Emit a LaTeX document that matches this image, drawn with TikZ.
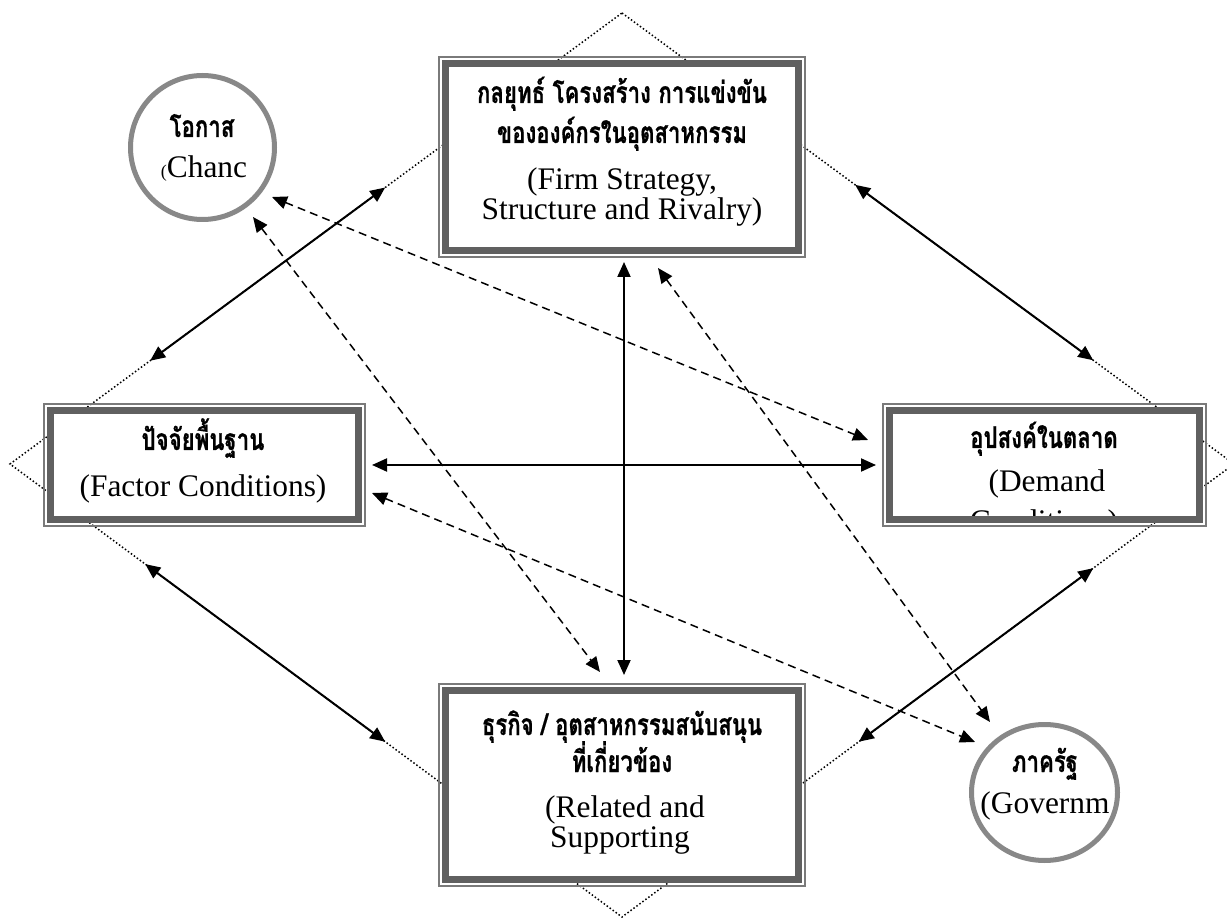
\documentclass[tikz,border=0pt]{standalone}
\usepackage{fontspec}
\setmainfont{Liberation Serif}
\newfontfamily\thaifont[Script=Thai,FakeStretch=0.74,BoldFeatures={FakeBold=0.6}]{Loma}
\usetikzlibrary{arrows.meta,calc,shapes.geometric}

\definecolor{bandgray}{RGB}{96,96,96}
\definecolor{rimgray}{RGB}{122,122,122}
\definecolor{ringgray}{RGB}{136,136,136}

\begin{document}
\begin{tikzpicture}[x=0.5pt,y=-0.5pt,
  box/.style={rectangle, draw=bandgray, line width=3.5pt, fill=white,
    inner sep=0pt, outer sep=0pt},
  rim/.style={draw=rimgray, line width=1pt},
  ring/.style={draw=ringgray, line width=2.5pt, fill=white,
    inner sep=0pt, outer sep=0pt},
  th/.style={font=\thaifont\bfseries\fontsize{15}{17}\selectfont,
    anchor=base, inner sep=0pt},
  en/.style={font=\fontsize{15.7}{18}\selectfont, anchor=base, inner sep=0pt},
  link/.style={line width=1pt, {Triangle[length=7.5pt,width=6.5pt]}-{Triangle[length=7.5pt,width=6.5pt]}},
  dlink/.style={line width=0.75pt, dash pattern=on 4pt off 2.6pt,
    {Triangle[length=7.5pt,width=6.5pt]}-{Triangle[length=7.5pt,width=6.5pt]}},
  edge/.style={line width=0.75pt, dash pattern=on 0.75pt off 1.1pt}
]
\useasboundingbox (0,0) rectangle (1227,919);

% the dotted diamond behind everything
\coordinate (T) at (622,13);
\coordinate (R) at (1234,464);
\coordinate (B) at (622,917);
\coordinate (L) at (10,464);
\draw[edge] (T) -- (R) -- (B) -- (L) -- cycle;

% the four framed boxes
\node[box, minimum width=176.5pt, minimum height=93.5pt] (firm) at (622,157) {};
\node[box, minimum width=154pt, minimum height=54.5pt] (factor) at (204.5,465) {};
\node[box, minimum width=155pt, minimum height=54.5pt] (demand) at (1044.5,465) {};
\node[box, minimum width=176.5pt, minimum height=94.5pt] (related) at (622,785) {};
\foreach \n in {firm,factor,demand,related}
  \draw[rim] ([shift={(-3.25pt,3.25pt)}]\n.north west)
    rectangle ([shift={(3.25pt,-3.25pt)}]\n.south east);

% box texts
\node[th] (firmT1) at (622,103) {กลยุทธ์ โครงสร้าง การแข่งขัน};
\node[th] (firmT2) at (622,143) {ขององค์กรในอุตสาหกรรม};
\node[en] (firmE1) at (622,190) {(Firm Strategy,};
\node[en] (firmE2) at (622,220) {Structure and Rivalry)};

\node[th] (factorT) at (203,450) {ปัจจัยพื้นฐาน};
\node[en] (factorE) at (203,497) {(Factor Conditions)};

\node[th] (demandT) at (1044,448) {อุปสงค์ในตลาด};
\node[en] (demandE1) at (1047,492) {(Demand};
\begin{scope}
  \clip ([shift={(1.75pt,-1.75pt)}]demand.north west)
    rectangle ([shift={(-1.75pt,1.75pt)}]demand.south east);
  \node[en] (demandE2) at (1044,532) {Conditions)};
\end{scope}

\node[th] (relT1) at (622,735) {ธุรกิจ / อุตสาหกรรมสนับสนุน};
\node[th] (relT2) at (622,772) {ที่เกี่ยวข้อง};
\node[en] (relE1) at (625,817) {(Related and};
\node[en] (relE2) at (620,847) {Supporting};

% solid links along the diamond edges
\draw[link] ($(L)!0.229!(T)$) -- ($(L)!0.613!(T)$);
\draw[link] ($(T)!0.381!(R)$) -- ($(T)!0.770!(R)$);
\draw[link] ($(L)!0.221!(B)$) -- ($(L)!0.613!(B)$);
\draw[link] ($(R)!0.230!(B)$) -- ($(R)!0.613!(B)$);
\draw[link] ([xshift=1pt,yshift=-5.75pt]firm.south) -- ([xshift=1pt,yshift=7.75pt]related.north);
\draw[link] ([xshift=6.75pt]factor.east) -- ([xshift=-6.75pt]demand.west);

% the two outside influences
\node[circle, ring, minimum size=72pt] (chance) at (202.5,147.5) {};
\node[ellipse, ring, minimum width=73pt, minimum height=68pt] (gov) at (1044.5,792.5) {};
\node[th] (chanceT) at (202,137) {โอกาส};
\node[en] (chanceE) at (204,178) {{\fontsize{9}{9}\selectfont(}Chanc};
\node[th] (govT) at (1045,772) {ภาครัฐ};
\node[en] (govE) at (1045,813) {(Governm};

% dashed influence links
\draw[dlink] ($(chance)+(69.5,49.5)$) -- ($(demand)+(-176.5,-25)$);
\draw[dlink] ($(chance)+(50.5,69.5)$) -- ($(related)+(-22,-113)$);
\draw[dlink] ($(factor)+(167.5,28)$) -- ($(gov)+(-69.5,-50.5)$);
\draw[dlink] ($(firm)+(36,111)$) -- ($(gov)+(-54.5,-70.5)$);
\end{tikzpicture}
\end{document}
